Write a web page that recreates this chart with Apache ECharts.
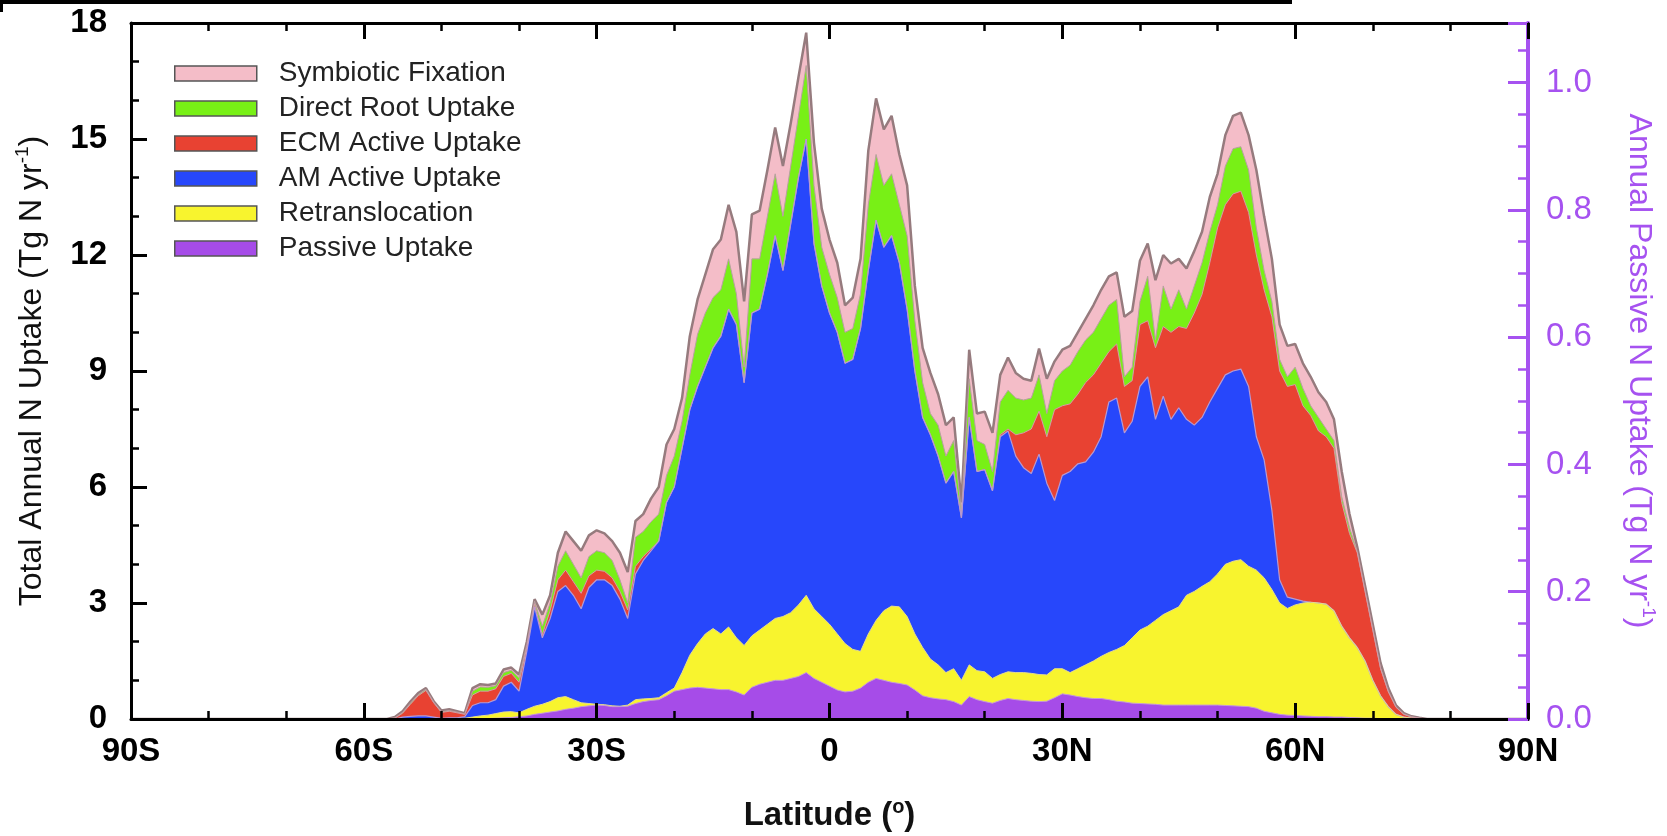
<!DOCTYPE html>
<html>
<head>
<meta charset="utf-8">
<script src="https://cdn.jsdelivr.net/npm/echarts@6/dist/echarts.min.js"></script>
<style>
html,body{margin:0;padding:0;background:#fff;overflow:hidden;}
#chart{width:1667px;height:836px;}
</style>
</head>
<body>
<div id="chart"></div>
<script>
// Latitude grid (degrees; negative = south)
const lats = [
  -90,-57,-56,-55,-54,-53,-52,-51,-50,-49,
  -48,-47,-46,-45,-44,-43,-42,-41,-40,-39,
  -38,-37,-36,-35,-34,-33,-32,-31,-30,-29,
  -28,-27,-26,-25,-24,-23,-22,-21,-20,-19,
  -18,-17,-16,-15,-14,-13,-12,-11,-10,-9,
  -8,-7,-6,-5,-4,-3,-2,-1,0,1,
  2,3,4,5,6,7,8,9,10,11,
  12,13,14,15,16,17,18,19,20,21,
  22,23,24,25,26,27,28,29,30,31,
  32,33,34,35,36,37,38,39,40,41,
  42,43,44,45,46,47,48,49,50,51,
  52,53,54,55,56,57,58,59,60,61,
  62,63,64,65,66,67,68,69,70,71,
  72,73,74,75,76,77,90
];
// Tg N / yr, per component (stacked bottom to top in this order)
const passiveUptake = [
  0,0,0,0,0,0,0,0,0,0,
  0,0,0,0.01,0.01,0.02,0.03,0.04,0.06,0.08,
  0.12,0.15,0.18,0.21,0.25,0.28,0.32,0.34,0.36,0.35,
  0.32,0.32,0.33,0.40,0.45,0.48,0.50,0.60,0.72,0.76,
  0.80,0.82,0.80,0.78,0.76,0.76,0.70,0.62,0.82,0.90,
  0.95,1.00,1.00,1.05,1.10,1.20,1.05,0.95,0.85,0.75,
  0.70,0.72,0.80,0.95,1.05,1.00,0.95,0.92,0.88,0.75,
  0.60,0.55,0.52,0.50,0.45,0.36,0.58,0.50,0.45,0.41,
  0.48,0.53,0.50,0.48,0.46,0.45,0.46,0.55,0.65,0.62,
  0.58,0.55,0.53,0.53,0.50,0.46,0.44,0.41,0.40,0.39,
  0.38,0.36,0.36,0.36,0.36,0.36,0.36,0.36,0.36,0.35,
  0.34,0.33,0.32,0.28,0.20,0.16,0.12,0.10,0.09,0.08,
  0.07,0.06,0.06,0.05,0.05,0.04,0.03,0.02,0.02,0.01,
  0.01,0,0,0,0,0,0
];
const retranslocation = [
  0,0,0,0,0,0,0,0,0,0,
  0,0.02,0.05,0.07,0.09,0.12,0.15,0.15,0.10,0.17,
  0.21,0.23,0.27,0.34,0.33,0.22,0.10,0.06,0.02,0.02,
  0.02,0.01,0.03,0.10,0.07,0.05,0.05,0.08,0.08,0.44,
  0.85,1.13,1.40,1.56,1.44,1.62,1.40,1.28,1.33,1.40,
  1.50,1.60,1.65,1.70,1.85,2.00,1.80,1.70,1.60,1.45,
  1.25,1.08,0.95,1.25,1.50,1.80,1.97,1.98,1.77,1.45,
  1.25,1.00,0.88,0.70,0.85,0.64,0.82,0.75,0.77,0.64,
  0.67,0.69,0.70,0.72,0.72,0.70,0.68,0.75,0.65,0.58,
  0.72,0.85,0.97,1.09,1.22,1.34,1.46,1.69,1.90,2.01,
  2.17,2.34,2.44,2.54,2.84,2.94,3.07,3.19,3.39,3.65,
  3.74,3.79,3.63,3.57,3.45,3.19,2.88,2.76,2.86,2.92,
  2.95,2.94,2.91,2.75,2.35,2.06,1.82,1.48,0.98,0.59,
  0.31,0.12,0.05,0.02,0,0,0
];
const amActiveUptake = [
  0,0,0,0.05,0.07,0.08,0.08,0.05,0.02,0.03,
  0.03,0.04,0.30,0.34,0.32,0.36,0.67,0.76,0.56,1.50,
  2.57,1.72,2.15,2.75,2.87,2.70,2.43,3.00,3.22,3.23,
  3.11,2.77,2.24,3.25,3.58,3.82,4.05,4.92,5.20,5.80,
  6.35,6.65,6.90,7.26,7.70,8.22,8.10,6.80,8.35,8.30,
  9.05,9.90,8.95,10.05,11.05,11.80,9.45,8.55,8.05,7.80,
  7.25,7.50,8.35,9.40,10.35,9.40,9.58,8.90,7.95,6.80,
  5.95,5.80,5.40,4.90,5.10,4.20,6.40,5.15,5.23,4.85,
  6.15,6.23,5.60,5.30,5.17,5.70,4.96,4.35,5.00,5.20,
  5.30,5.25,5.40,5.68,6.48,6.50,5.50,5.60,6.30,6.45,
  5.20,5.65,4.95,5.15,4.55,4.30,4.37,4.65,4.80,4.90,
  4.92,4.93,4.65,3.45,3.05,2.05,0.60,0.29,0.15,0.05,
  0,0,0,0,0,0,0,0,0,0,
  0,0,0,0,0,0,0
];
const ecmActiveUptake = [
  0,0,0.02,0.10,0.31,0.52,0.66,0.37,0.15,0.17,
  0.13,0.06,0.27,0.30,0.30,0.28,0.25,0.23,0.23,0.10,
  0.08,0.08,0.20,0.30,0.40,0.35,0.40,0.30,0.25,0.22,
  0.20,0.20,0.22,0.20,0.10,0.05,0,0,0,0,
  0,0,0,0,0,0,0,0,0,0,
  0,0,0,0,0,0,0,0,0,0,
  0,0,0,0,0,0,0,0,0,0,
  0,0,0,0,0,0,0,0,0,0,
  0.05,0.05,0.55,0.90,1.15,1.11,1.20,2.35,1.80,1.75,
  1.80,2.05,2.00,1.90,1.30,1.40,1.20,1.05,1.60,1.45,
  1.85,1.80,2.25,2.10,2.35,2.90,3.18,3.60,4.15,4.40,
  4.58,4.60,4.50,4.70,4.40,5.00,5.40,5.45,5.55,5.05,
  4.83,4.45,4.33,4.20,3.20,2.70,2.45,1.80,1.30,0.70,
  0.38,0.18,0.07,0.03,0.02,0,0
];
const directRootUptake = [
  0,0,0.01,0.02,0.03,0.03,0.03,0.02,0.02,0.02,
  0.02,0.01,0.10,0.11,0.10,0.08,0.10,0.08,0.12,0.07,
  0.07,0.22,0.20,0.35,0.50,0.45,0.40,0.50,0.50,0.48,
  0.45,0.30,0.18,0.75,0.65,0.70,0.70,0.70,0.80,0.70,
  0.90,1.35,1.40,1.30,1.20,1.30,0.80,0.40,1.40,1.30,
  1.50,1.60,1.40,1.50,1.60,1.90,1.50,1.00,1.00,0.90,
  0.80,0.80,0.90,1.70,1.70,1.60,1.60,1.50,1.90,1.30,
  0.90,0.55,0.80,0.70,0.80,0.15,1.00,0.80,0.65,0.50,
  0.85,1.00,0.95,0.85,0.80,0.94,0.60,0.75,0.90,1.00,
  1.10,1.10,1.10,1.15,1.20,1.15,0.25,0.35,0.60,1.15,
  0.20,1.05,0.60,0.95,0.50,0.70,0.82,0.80,0.60,1.00,
  1.17,1.15,1.10,0.70,0.50,0.40,0.30,0.25,0.45,0.45,
  0.25,0.35,0.20,0.20,0.15,0.15,0.03,0.02,0.02,0.02,
  0.02,0.01,0.01,0.01,0,0,0
];
const symbioticFixation = [
  0,0,0.02,0.03,0.04,0.04,0.03,0.02,0.03,0.03,
  0.02,0.02,0.08,0.07,0.06,0.06,0.08,0.07,0.08,0.08,
  0.05,0.30,0.20,0.35,0.50,0.60,0.70,0.55,0.53,0.50,
  0.50,0.70,0.80,0.42,0.45,0.60,0.70,0.80,0.70,0.60,
  1.00,0.90,1.00,1.25,1.30,1.40,1.60,1.70,1.15,1.25,
  1.20,1.20,1.30,1.10,1.00,0.85,1.10,1.00,0.90,0.90,
  0.70,0.80,0.90,1.40,1.45,1.45,1.50,1.30,1.30,0.90,
  0.90,1.05,0.80,0.80,0.60,0.25,0.75,0.70,0.85,1.00,
  0.70,0.85,0.65,0.55,0.45,0.68,0.90,0.50,0.55,0.50,
  0.50,0.55,0.70,0.75,0.75,0.70,1.55,1.45,1.05,0.85,
  1.55,0.80,1.18,0.80,1.05,0.90,0.80,0.90,0.80,0.80,
  0.85,0.88,0.90,1.50,1.40,1.10,0.90,0.80,0.60,0.65,
  0.75,0.65,0.70,0.55,0.65,0.35,0.12,0.13,0.13,0.13,
  0.08,0.04,0.02,0.01,0.01,0,0
];
const xTickValues = [-90,-60,-30,0,30,60,90];
const xTickLabels = ['90S','60S','30S','0','30N','60N','90N'];

const FONT = "'Liberation Sans', Arial, Helvetica, sans-serif";
const PURPLE = '#a652f0';

// bottom-to-top stacking order
const layers = [
  {name:'Passive Uptake', data: passiveUptake, fill:'#a64ce8', edge:'#c59ad6', w:1},
  {name:'Retranslocation', data: retranslocation, fill:'#f8f42e', edge:'#e4dc8c', w:1},
  {name:'AM Active Uptake', data: amActiveUptake, fill:'#2747fb', edge:'#b69ad2', w:1.2},
  {name:'ECM Active Uptake', data: ecmActiveUptake, fill:'#e84232', edge:'#d49aa8', w:1},
  {name:'Direct Root Uptake', data: directRootUptake, fill:'#78f016', edge:'#b8a0a0', w:1},
  {name:'Symbiotic Fixation', data: symbioticFixation, fill:'#f4bdc8', edge:'#967b7e', w:2.5}
];
// cumulative tops (stack built here; each layer area fills down to zero, upper layers drawn first)
const running = lats.map(function(){ return 0; });
layers.forEach(function(L){
  L.top = L.data.map(function(v, i){ running[i] += v; return +running[i].toFixed(4); });
});

const chart = echarts.init(document.getElementById('chart'), null, {renderer:'canvas'});

const xAxisCommon = {
  type:'value', min:-90, max:90, interval:30, z:10,
  axisLine:{show:true, onZero:false, lineStyle:{color:'#000', width:3}},
  axisTick:{show:true, inside:true, length:16, lineStyle:{color:'#000', width:3}},
  minorTick:{show:true, splitNumber:3, length:8, lineStyle:{color:'#000', width:2.5}},
  splitLine:{show:false}, minorSplitLine:{show:false}
};

const seriesList = layers.slice().reverse().map(function(L){
  return {
    name:L.name, type:'line', xAxisIndex:0, yAxisIndex:0,
    showSymbol:false, symbol:'none', smooth:false,
    data: lats.map(function(x, i){ return [x, L.top[i]]; }),
    itemStyle:{color:L.fill},
    lineStyle:{color:L.edge, width:L.w},
    areaStyle:{color:L.fill, opacity:1, origin:'start'}
  };
});

chart.setOption({
  animation:false,
  backgroundColor:'#fff',
  textStyle:{fontFamily:FONT},
  grid:{left:131, top:23, width:1397, height:696, containLabel:false, outerBoundsMode:'none'},
  legend:{
    orient:'vertical', left:169, top:51, icon:'rect',
    itemWidth:82, itemHeight:15, itemGap:0,
    itemStyle:{borderColor:'#555', borderWidth:1.5},
    textStyle:{fontFamily:FONT, fontSize:28, color:'#222', lineHeight:35, padding:[0,0,0,17]},
    data:['Symbiotic Fixation','Direct Root Uptake','ECM Active Uptake','AM Active Uptake','Retranslocation','Passive Uptake'],
    selectedMode:false
  },
  xAxis:[
    Object.assign({}, xAxisCommon, {
      position:'bottom',
      name:'Latitude ({s|o})', nameLocation:'middle', nameGap:78,
      nameTextStyle:{fontFamily:FONT, fontSize:33, fontWeight:'bold', color:'#111', lineHeight:38,
        rich:{s:{fontFamily:FONT, fontSize:20, fontWeight:'bold', color:'#111', verticalAlign:'top', lineHeight:22}}},
      axisLabel:{show:true, margin:16, fontFamily:FONT, fontSize:33, fontWeight:'bold', color:'#000',
        formatter:function(v){ const i = xTickValues.indexOf(v); return i >= 0 ? xTickLabels[i] : ''; }}
    }),
    Object.assign({}, xAxisCommon, {position:'top', axisLabel:{show:false}})
  ],
  yAxis:[
    {
      type:'value', min:0, max:18, interval:3, position:'left', z:10,
      axisLine:{show:true, onZero:false, lineStyle:{color:'#000', width:3}},
      axisTick:{show:true, inside:true, length:16, lineStyle:{color:'#000', width:3}},
      minorTick:{show:true, splitNumber:3, length:8, lineStyle:{color:'#000', width:2.5}},
      splitLine:{show:false},
      axisLabel:{margin:24, fontFamily:FONT, fontSize:33, fontWeight:'bold', color:'#000'},
      name:'Total Annual N Uptake (Tg N yr{s|-1})', nameLocation:'middle', nameRotate:90, nameGap:80,
      nameTextStyle:{fontFamily:FONT, fontSize:32, color:'#111', lineHeight:38,
        rich:{s:{fontFamily:FONT, fontSize:19, color:'#111', verticalAlign:'top', lineHeight:22}}}
    },
    {
      type:'value', min:0, max:1.0936, interval:0.2, position:'right', z:10,
      axisLine:{show:true, onZero:false, lineStyle:{color:PURPLE, width:4}},
      axisTick:{show:true, inside:true, length:20, lineStyle:{color:PURPLE, width:3}},
      minorTick:{show:true, splitNumber:4, length:10, lineStyle:{color:PURPLE, width:2.5}},
      splitLine:{show:false},
      axisLabel:{margin:18, fontFamily:FONT, fontSize:33, color:PURPLE, showMaxLabel:false,
        formatter:function(v){ return v.toFixed(1); }},
      name:'Annual Passive N Uptake (Tg N yr{s|-1})', nameLocation:'middle', nameRotate:-90, nameGap:92,
      nameTextStyle:{fontFamily:FONT, fontSize:32, color:PURPLE, lineHeight:38,
        rich:{s:{fontFamily:FONT, fontSize:19, color:PURPLE, verticalAlign:'top', lineHeight:22}}}
    }
  ],
  graphic:[
    {type:'rect', left:0, top:0, shape:{x:0, y:0, width:1292, height:4}, style:{fill:'#000'}, z:100},
    {type:'rect', left:0, top:0, shape:{x:0, y:0, width:3, height:12}, style:{fill:'#000'}, z:100}
  ],
  series: seriesList
});
</script>
</body>
</html>
